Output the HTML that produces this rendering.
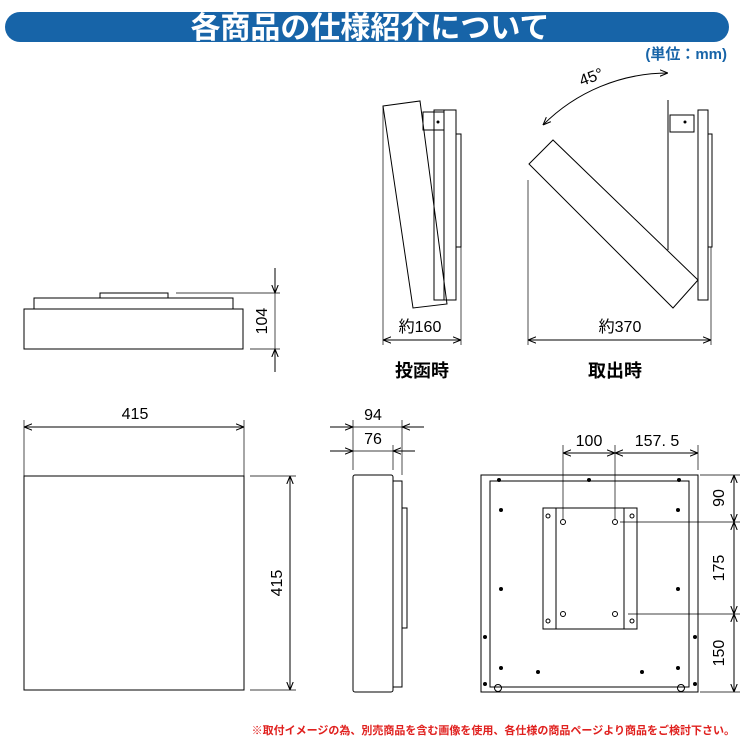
<!DOCTYPE html>
<html><head><meta charset="utf-8"><style>
html,body{margin:0;padding:0;background:#fff;width:740px;height:740px;overflow:hidden}
svg{display:block}
text{font-family:"Liberation Sans","Noto Sans CJK JP",sans-serif}
</style></head><body>
<svg width="740" height="740" viewBox="0 0 740 740" xmlns="http://www.w3.org/2000/svg">
<defs>
<marker id="a" viewBox="0 0 10 10" refX="10" refY="5" markerWidth="8" markerHeight="8" orient="auto-start-reverse"><path d="M0,1 L10,5 L0,9" fill="none" stroke="#000" stroke-width="1.3"/></marker>
</defs>
<rect x="5" y="12" width="724" height="30" rx="15" fill="#1764a8"/>
<text x="370" y="38" font-size="30" font-weight="bold" fill="#fff" text-anchor="middle">各商品の仕様紹介について</text>
<text x="727" y="59" font-size="15" font-weight="bold" fill="#1764a8" text-anchor="end">(単位：mm)</text>

<g fill="none" stroke="#000" stroke-width="1">
<rect x="24" y="309" width="219" height="40"/>
<rect x="34" y="298" width="199" height="11"/>
<rect x="100" y="293" width="68" height="5"/>
<line x1="176" y1="293" x2="280" y2="293" stroke-width="0.7"/>
<line x1="250" y1="349" x2="280" y2="349" stroke-width="0.7"/>
<line x1="275" y1="268" x2="275" y2="293" marker-end="url(#a)"/>
<line x1="275" y1="372" x2="275" y2="349" marker-end="url(#a)"/>
<line x1="275" y1="293" x2="275" y2="349" stroke-width="0.7"/>

<polygon points="383,106 420,101 447,304 413,308" fill="#fff"/>
<rect x="434" y="110" width="10" height="190"/>
<rect x="444" y="110" width="12" height="190"/>
<rect x="456" y="134" width="5" height="113"/>
<rect x="423" y="112" width="21" height="18"/>
<line x1="383" y1="106" x2="383" y2="345" stroke-width="0.7"/>
<line x1="461" y1="247" x2="461" y2="345" stroke-width="0.7"/>
<line x1="383" y1="340" x2="461" y2="340" marker-start="url(#a)" marker-end="url(#a)"/>

<rect x="698" y="110" width="10" height="190"/>
<rect x="708" y="134" width="4" height="113"/>
<rect x="670" y="115" width="24" height="17"/>
<line x1="668" y1="100" x2="668" y2="250"/>
<polygon points="529,164 553,140 698,280 673,308" fill="#fff"/>
<line x1="528" y1="180" x2="528" y2="345" stroke-width="0.7"/>
<line x1="711" y1="247" x2="711" y2="345" stroke-width="0.7"/>
<line x1="528" y1="340" x2="711" y2="340" marker-start="url(#a)" marker-end="url(#a)"/>
<path d="M668,73 A177,177 0 0 0 543,125" marker-start="url(#a)" marker-end="url(#a)"/>

<rect x="24" y="476" width="220" height="214"/>
<line x1="24" y1="420" x2="24" y2="476" stroke-width="0.7"/>
<line x1="244" y1="420" x2="244" y2="476" stroke-width="0.7"/>
<line x1="24" y1="427" x2="244" y2="427" marker-start="url(#a)" marker-end="url(#a)"/>
<line x1="250" y1="476" x2="296" y2="476" stroke-width="0.7"/>
<line x1="250" y1="690" x2="296" y2="690" stroke-width="0.7"/>
<line x1="290" y1="476" x2="290" y2="690" marker-start="url(#a)" marker-end="url(#a)"/>

<rect x="353" y="475" width="40" height="217" rx="2"/>
<rect x="393" y="481" width="9" height="206"/>
<rect x="402" y="508" width="5" height="120"/>
<line x1="353" y1="420" x2="353" y2="470" stroke-width="0.7"/>
<line x1="402" y1="420" x2="402" y2="475" stroke-width="0.7"/>
<line x1="393" y1="445" x2="393" y2="470" stroke-width="0.7"/>
<line x1="330" y1="427" x2="353" y2="427" marker-end="url(#a)"/>
<line x1="424" y1="427" x2="402" y2="427" marker-end="url(#a)"/>
<line x1="353" y1="427" x2="402" y2="427" stroke-width="0.7"/>
<line x1="330" y1="451" x2="353" y2="451" marker-end="url(#a)"/>
<line x1="415" y1="451" x2="393" y2="451" marker-end="url(#a)"/>
<line x1="353" y1="451" x2="393" y2="451" stroke-width="0.7"/>

<rect x="481" y="475" width="217" height="217"/>
<rect x="490" y="481" width="199" height="206"/>
<rect x="543" y="508" width="94" height="121"/>
<line x1="556" y1="508" x2="556" y2="629"/>
<line x1="624" y1="508" x2="624" y2="629"/>
<circle cx="563" cy="522" r="2.5"/><circle cx="615" cy="522" r="2.5"/>
<circle cx="563" cy="614" r="2.5"/><circle cx="615" cy="614" r="2.5"/>
<circle cx="548" cy="516" r="2"/><circle cx="632" cy="516" r="2"/>
<circle cx="548" cy="621" r="2"/><circle cx="632" cy="621" r="2"/>
<circle cx="498" cy="688" r="3.5"/><circle cx="681" cy="688" r="3.5"/>
<line x1="563" y1="445" x2="563" y2="520" stroke-width="0.7"/>
<line x1="615" y1="445" x2="615" y2="520" stroke-width="0.7"/>
<line x1="698" y1="445" x2="698" y2="470" stroke-width="0.7"/>
<line x1="563" y1="453" x2="615" y2="453" marker-start="url(#a)" marker-end="url(#a)"/>
<line x1="615" y1="453" x2="698" y2="453" marker-start="url(#a)" marker-end="url(#a)"/>
<line x1="700" y1="475" x2="740" y2="475" stroke-width="0.7"/>
<line x1="620" y1="522" x2="740" y2="522" stroke-width="0.7"/>
<line x1="628" y1="614" x2="740" y2="614" stroke-width="0.7"/>
<line x1="700" y1="692" x2="740" y2="692" stroke-width="0.7"/>
<line x1="734" y1="475" x2="734" y2="522" marker-start="url(#a)" marker-end="url(#a)"/>
<line x1="734" y1="522" x2="734" y2="614" marker-start="url(#a)" marker-end="url(#a)"/>
<line x1="734" y1="614" x2="734" y2="692" marker-start="url(#a)" marker-end="url(#a)"/>
</g>
<g fill="#000">
<circle cx="499" cy="480" r="2"/><circle cx="589" cy="480" r="2"/><circle cx="679" cy="480" r="2"/>
<circle cx="501" cy="510" r="2"/><circle cx="678" cy="510" r="2"/>
<circle cx="501" cy="589" r="2"/><circle cx="678" cy="589" r="2"/>
<circle cx="485" cy="637" r="2"/><circle cx="695" cy="637" r="2"/>
<circle cx="501" cy="668" r="2"/><circle cx="538" cy="672" r="2"/><circle cx="642" cy="672" r="2"/><circle cx="678" cy="668" r="2"/>
<circle cx="485" cy="684" r="2"/><circle cx="695" cy="684" r="2"/>
<circle cx="438" cy="122" r="1.5"/><circle cx="685" cy="122" r="1.5"/>
</g>

<g font-size="16" fill="#000">
<text x="263" y="321" text-anchor="middle" transform="rotate(-90 263 321)" dominant-baseline="middle">104</text>
<text x="420" y="332" text-anchor="middle">約160</text>
<text x="620" y="332" text-anchor="middle">約370</text>
<text x="593" y="82" text-anchor="middle" transform="rotate(-20 593 82)">45°</text>
<text x="135" y="419" text-anchor="middle">415</text>
<text x="278" y="583" text-anchor="middle" transform="rotate(-90 278 583)" dominant-baseline="middle">415</text>
<text x="373" y="420" text-anchor="middle">94</text>
<text x="373" y="444" text-anchor="middle">76</text>
<text x="589" y="446" text-anchor="middle">100</text>
<text x="657" y="446" text-anchor="middle">157. 5</text>
<text x="720" y="498" text-anchor="middle" transform="rotate(-90 720 498)" dominant-baseline="middle">90</text>
<text x="720" y="568" text-anchor="middle" transform="rotate(-90 720 568)" dominant-baseline="middle">175</text>
<text x="720" y="653" text-anchor="middle" transform="rotate(-90 720 653)" dominant-baseline="middle">150</text>
</g>
<text x="422" y="377" font-size="18" font-weight="bold" text-anchor="middle">投函時</text>
<text x="615" y="377" font-size="18" font-weight="bold" text-anchor="middle">取出時</text>
<text x="735" y="734" font-size="11" font-weight="bold" fill="#e0201e" text-anchor="end">※取付イメージの為、別売商品を含む画像を使用、各仕様の商品ページより商品をご検討下さい。</text>
</svg>
</body></html>
